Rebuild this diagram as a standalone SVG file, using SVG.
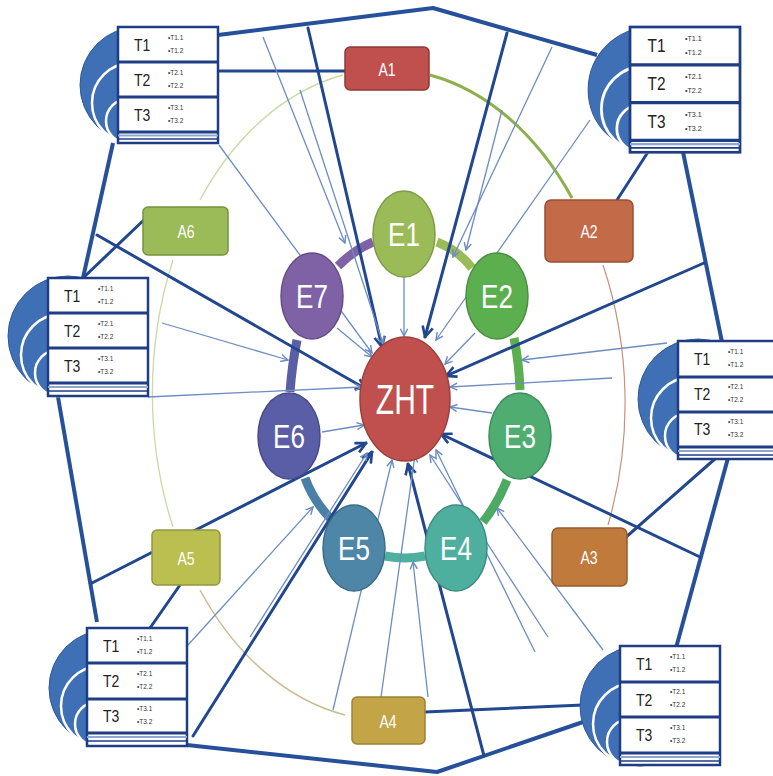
<svg xmlns="http://www.w3.org/2000/svg" width="773" height="776" viewBox="0 0 773 776">
<defs>
<style>
.disc{fill:#3F70B6;stroke:#2D5A9A;stroke-width:1}
.ring{fill:none;stroke:#fff;stroke-width:2.5}
.box{fill:#fff;stroke:#1F3D85;stroke-width:2.5}
.div{stroke:#1F3D85;stroke-width:3;fill:none}
.div2{stroke:#8FA8D2;stroke-width:2;fill:none}
.div3{stroke:#1F3D85;stroke-width:1.6;fill:none}
.tl{font-family:"Liberation Sans",Arial,sans-serif;font-size:14px;fill:#222}
.bl{font-family:"Liberation Sans",Arial,sans-serif;font-size:6.5px;fill:#333}
.el{font-family:"Liberation Sans",Arial,sans-serif;font-size:26px;fill:#fff;text-anchor:middle}
.zl{font-family:"Liberation Sans",Arial,sans-serif;font-size:30px;fill:#fff;text-anchor:middle}
.al{font-family:"Liberation Sans",Arial,sans-serif;font-size:14px;fill:#fff;text-anchor:middle}
.thick{stroke:#21478F;stroke-width:3;fill:none;stroke-linecap:round}
.poly{stroke:#26519A;stroke-width:4;fill:none;stroke-linejoin:round}
.thin{stroke:#6C8DC2;stroke-width:1.3;fill:none}
.arc{fill:none;stroke-width:9}
</style>
<marker id="ah" viewBox="0 0 10 10" refX="9" refY="5" markerWidth="13" markerHeight="13" markerUnits="userSpaceOnUse" orient="auto"><path d="M1,1 L9,5 L1,9" fill="none" stroke="#21478F" stroke-width="2"/></marker>
<marker id="at" viewBox="0 0 10 10" refX="9" refY="5" markerWidth="9" markerHeight="9" markerUnits="userSpaceOnUse" orient="auto"><path d="M1,1 L9,5 L1,9" fill="none" stroke="#6C8DC2" stroke-width="1.6"/></marker>
</defs>
<rect width="773" height="776" fill="#fff"/>

<g id="outer-ellipse">
<path d="M430,75 A235,326 0 0 1 572,198" fill="none" stroke="#8DB04D" stroke-width="3"/>
<path d="M603,265 A235,326 0 0 1 608,525" fill="none" stroke="#C8917A" stroke-width="1.2"/>
<path d="M345,715 A235,326 0 0 1 200,590" fill="none" stroke="#C9BC8F" stroke-width="1.5"/>
<path d="M173,527 A235,326 0 0 1 173,260" fill="none" stroke="#C9DAA2" stroke-width="1.3"/>
<path d="M200,200 A235,326 0 0 1 343,75" fill="none" stroke="#C9DAA2" stroke-width="1.3"/>
</g>

<g id="ring-arcs">
<path class="arc" d="M437,242 Q458,250 472,268" stroke="#9BBB59"/>
<path class="arc" d="M338,266 Q354,250 373,242" stroke="#7F62A6"/>
<path class="arc" d="M514,338 Q519,362 520,390" stroke="#5CAF4E"/>
<path class="arc" d="M507,480 Q498,503 483,522" stroke="#4CAA62"/>
<path class="arc" d="M385,556 Q405,560 425,556" stroke="#4FAF9F"/>
<path class="arc" d="M305,478 Q313,500 330,518" stroke="#4A80A5"/>
<path class="arc" d="M297,340 Q292,365 290,392" stroke="#5A5EA6"/>
</g>

<g id="connectors">
<path class="poly" d="M218,35 L433,8 L597,55"/>
<path class="poly" d="M683,152 L722,342"/>
<path class="poly" d="M728,458 L676,648"/>
<path class="poly" d="M583,722 L437,772 L187,745"/>
<path class="poly" d="M58,397 L97,622"/>
<path class="poly" d="M113,143 L83,278"/>
<path class="thick" d="M218,71 L345,71"/>
<path class="thick" d="M648,152 L617,200"/>
<path class="thick" d="M716,458 L625,538"/>
<path class="thick" d="M150,628 L180,585"/>
<path class="thick" d="M83,278 L147,217"/>
<path class="thick" d="M425,712 L583,705"/>
<path class="thick" d="M308,28 L382,347" marker-end="url(#ah)"/>
<path class="thick" d="M507,33 L425,337" marker-end="url(#ah)"/>
<path class="thick" d="M704,263 L446,376" marker-end="url(#ah)"/>
<path class="thick" d="M700,557 L441,434" marker-end="url(#ah)"/>
<path class="thick" d="M484,756 L408,464" marker-end="url(#ah)"/>
<path class="thick" d="M193,736 L372,452" marker-end="url(#ah)"/>
<path class="thick" d="M92,583 L366,443" marker-end="url(#ah)"/>
<path class="thick" d="M97,235 L366,389" marker-end="url(#ah)"/>
<path class="thin" d="M263,37 L345,243" marker-end="url(#at)"/>
<path class="thin" d="M300,90 L383,344" marker-end="url(#at)"/>
<path class="thin" d="M219,145 L372,353" marker-end="url(#at)"/>
<path class="thin" d="M404,277 L404,336" marker-end="url(#at)"/>
<path class="thin" d="M337,328 L372,357" marker-end="url(#at)"/>
<path class="thin" d="M552,47 L453,257" marker-end="url(#at)"/>
<path class="thin" d="M502,110 L466,250" marker-end="url(#at)"/>
<path class="thin" d="M590,120 L436,340" marker-end="url(#at)"/>
<path class="thin" d="M475,333 L445,364" marker-end="url(#at)"/>
<path class="thin" d="M667,343 L522,360" marker-end="url(#at)"/>
<path class="thin" d="M612,378 L450,387" marker-end="url(#at)"/>
<path class="thin" d="M492,413 L450,407" marker-end="url(#at)"/>
<path class="thin" d="M162,323 L288,360" marker-end="url(#at)"/>
<path class="thin" d="M148,397 L362,387" marker-end="url(#at)"/>
<path class="thin" d="M322,432 L364,425" marker-end="url(#at)"/>
<path class="thin" d="M188,645 L313,507" marker-end="url(#at)"/>
<path class="thin" d="M250,637 L367,453" marker-end="url(#at)"/>
<path class="thin" d="M333,710 L392,460" marker-end="url(#at)"/>
<path class="thin" d="M381,697 L415,455" marker-end="url(#at)"/>
<path class="thin" d="M428,697 L413,562" marker-end="url(#at)"/>
<path class="thin" d="M535,652 L436,450" marker-end="url(#at)"/>
<path class="thin" d="M603,650 L497,508" marker-end="url(#at)"/>
<path class="thin" d="M548,637 L430,455" marker-end="url(#at)"/>
</g>

<g id="E1"><ellipse cx="404" cy="234" rx="31" ry="43" fill="#9BBB59" stroke="#7E9C44" stroke-width="1.5"/><text class="el" transform="translate(404,245.5) scale(1,1.25)">E1</text></g>
<g id="E2"><ellipse cx="497" cy="296" rx="31" ry="43" fill="#5CAF4E" stroke="#4A8F3E" stroke-width="1.5"/><text class="el" transform="translate(497,307.5) scale(1,1.25)">E2</text></g>
<g id="E3"><ellipse cx="520" cy="436" rx="31" ry="43" fill="#4FAD72" stroke="#3E8C5A" stroke-width="1.5"/><text class="el" transform="translate(520,447.5) scale(1,1.25)">E3</text></g>
<g id="E4"><ellipse cx="456" cy="548" rx="31" ry="43" fill="#4FAF9F" stroke="#3D8C7F" stroke-width="1.5"/><text class="el" transform="translate(456,559.5) scale(1,1.25)">E4</text></g>
<g id="E5"><ellipse cx="354" cy="548" rx="31" ry="43" fill="#4E86A7" stroke="#3D6B86" stroke-width="1.5"/><text class="el" transform="translate(354,559.5) scale(1,1.25)">E5</text></g>
<g id="E6"><ellipse cx="289" cy="436" rx="31" ry="43" fill="#5A5EA6" stroke="#474A86" stroke-width="1.5"/><text class="el" transform="translate(289,447.5) scale(1,1.25)">E6</text></g>
<g id="E7"><ellipse cx="312" cy="296" rx="31" ry="43" fill="#7F62A6" stroke="#654D86" stroke-width="1.5"/><text class="el" transform="translate(312,307.5) scale(1,1.25)">E7</text></g>
<g id="ZHT"><ellipse cx="405" cy="399" rx="45" ry="62" fill="#C0504D" stroke="#9C3F3C" stroke-width="1.5"/><text class="zl" transform="translate(405,414) scale(1,1.4)">ZHT</text></g>

<g id="A1"><rect x="345" y="47" width="84" height="43" rx="5" fill="#C0504D" stroke="#8C3836" stroke-width="1.5"/><text class="al" transform="translate(387,75.5) scale(1,1.35)">A1</text></g>
<g id="A2"><rect x="545" y="200" width="88" height="62" rx="6" fill="#C36A48" stroke="#9A4F33" stroke-width="1.5"/><text class="al" transform="translate(589,238) scale(1,1.35)">A2</text></g>
<g id="A3"><rect x="552" y="528" width="75" height="58" rx="6" fill="#C07A3C" stroke="#955C2B" stroke-width="1.5"/><text class="al" transform="translate(589,564) scale(1,1.35)">A3</text></g>
<g id="A4"><rect x="352" y="697" width="73" height="47" rx="5" fill="#C3A548" stroke="#9A8235" stroke-width="1.5"/><text class="al" transform="translate(388,727.5) scale(1,1.35)">A4</text></g>
<g id="A5"><rect x="152" y="530" width="68" height="55" rx="5" fill="#BBBF50" stroke="#939640" stroke-width="1.5"/><text class="al" transform="translate(186,564.5) scale(1,1.35)">A5</text></g>
<g id="A6"><rect x="143" y="207" width="85" height="48" rx="5" fill="#9BBB59" stroke="#76923C" stroke-width="1.5"/><text class="al" transform="translate(186,237.5) scale(1,1.35)">A6</text></g>

<g id="S1" transform="translate(118,27)">
<circle class="disc" cx="20" cy="58" r="58"/><circle class="ring" cx="14" cy="76" r="40"/><circle class="ring" cx="10" cy="94" r="22"/>
<rect class="box" x="0" y="0" width="100" height="116"/>
<path class="div" d="M0,35H100M0,70H100M0,105H100"/><path class="div2" d="M0,108.5H100"/><path class="div3" d="M0,112H100"/>
<text class="tl" transform="translate(16,23.5) scale(1,1.2)">T1</text><text class="bl" x="50" y="13">•T1.1</text><text class="bl" x="50" y="26">•T1.2</text>
<text class="tl" transform="translate(16,58.5) scale(1,1.2)">T2</text><text class="bl" x="50" y="48">•T2.1</text><text class="bl" x="50" y="61">•T2.2</text>
<text class="tl" transform="translate(16,93.5) scale(1,1.2)">T3</text><text class="bl" x="50" y="83">•T3.1</text><text class="bl" x="50" y="96">•T3.2</text>
</g>
<g id="S2" transform="translate(630,27) scale(1.1,1.08)">
<circle class="disc" cx="20" cy="58" r="58"/><circle class="ring" cx="14" cy="76" r="40"/><circle class="ring" cx="10" cy="94" r="22"/>
<rect class="box" x="0" y="0" width="100" height="116"/>
<path class="div" d="M0,35H100M0,70H100M0,105H100"/><path class="div2" d="M0,108.5H100"/><path class="div3" d="M0,112H100"/>
<text class="tl" transform="translate(16,23.5) scale(1,1.2)">T1</text><text class="bl" x="50" y="13">•T1.1</text><text class="bl" x="50" y="26">•T1.2</text>
<text class="tl" transform="translate(16,58.5) scale(1,1.2)">T2</text><text class="bl" x="50" y="48">•T2.1</text><text class="bl" x="50" y="61">•T2.2</text>
<text class="tl" transform="translate(16,93.5) scale(1,1.2)">T3</text><text class="bl" x="50" y="83">•T3.1</text><text class="bl" x="50" y="96">•T3.2</text>
</g>
<g id="S3" transform="translate(48,278)">
<circle class="disc" cx="20" cy="58" r="60"/><circle class="ring" cx="14" cy="77" r="41"/><circle class="ring" cx="10" cy="95" r="23"/>
<rect class="box" x="0" y="0" width="100" height="118"/>
<path class="div" d="M0,35H100M0,70H100M0,105H100"/><path class="div2" d="M0,109H100"/><path class="div3" d="M0,113H100"/>
<text class="tl" transform="translate(16,23.5) scale(1,1.2)">T1</text><text class="bl" x="50" y="13">•T1.1</text><text class="bl" x="50" y="26">•T1.2</text>
<text class="tl" transform="translate(16,58.5) scale(1,1.2)">T2</text><text class="bl" x="50" y="48">•T2.1</text><text class="bl" x="50" y="61">•T2.2</text>
<text class="tl" transform="translate(16,93.5) scale(1,1.2)">T3</text><text class="bl" x="50" y="83">•T3.1</text><text class="bl" x="50" y="96">•T3.2</text>
</g>
<g id="S4" transform="translate(678,341)">
<circle class="disc" cx="20" cy="58" r="60"/><circle class="ring" cx="14" cy="77" r="41"/><circle class="ring" cx="10" cy="95" r="23"/>
<rect class="box" x="0" y="0" width="100" height="118"/>
<path class="div" d="M0,36H100M0,71H100M0,106H100"/><path class="div2" d="M0,110H100"/><path class="div3" d="M0,114H100"/>
<text class="tl" transform="translate(16,24) scale(1,1.2)">T1</text><text class="bl" x="50" y="13">•T1.1</text><text class="bl" x="50" y="26">•T1.2</text>
<text class="tl" transform="translate(16,59) scale(1,1.2)">T2</text><text class="bl" x="50" y="48">•T2.1</text><text class="bl" x="50" y="61">•T2.2</text>
<text class="tl" transform="translate(16,94) scale(1,1.2)">T3</text><text class="bl" x="50" y="83">•T3.1</text><text class="bl" x="50" y="96">•T3.2</text>
</g>
<g id="S5" transform="translate(87,628)">
<circle class="disc" cx="20" cy="60" r="58"/><circle class="ring" cx="14" cy="78" r="40"/><circle class="ring" cx="10" cy="96" r="22"/>
<rect class="box" x="0" y="0" width="100" height="118"/>
<path class="div" d="M0,35H100M0,71H100M0,105H100"/><path class="div2" d="M0,109H100"/><path class="div3" d="M0,113H100"/>
<text class="tl" transform="translate(16,23.5) scale(1,1.2)">T1</text><text class="bl" x="50" y="13">•T1.1</text><text class="bl" x="50" y="26">•T1.2</text>
<text class="tl" transform="translate(16,59) scale(1,1.2)">T2</text><text class="bl" x="50" y="48">•T2.1</text><text class="bl" x="50" y="61">•T2.2</text>
<text class="tl" transform="translate(16,94) scale(1,1.2)">T3</text><text class="bl" x="50" y="83">•T3.1</text><text class="bl" x="50" y="96">•T3.2</text>
</g>
<g id="S6" transform="translate(620,646)">
<circle class="disc" cx="20" cy="60" r="60"/><circle class="ring" cx="14" cy="78" r="41"/><circle class="ring" cx="10" cy="96" r="23"/>
<rect class="box" x="0" y="0" width="100" height="119"/>
<path class="div" d="M0,36H100M0,71H100M0,107H100"/><path class="div2" d="M0,111H100"/><path class="div3" d="M0,115H100"/>
<text class="tl" transform="translate(16,24) scale(1,1.2)">T1</text><text class="bl" x="50" y="13">•T1.1</text><text class="bl" x="50" y="26">•T1.2</text>
<text class="tl" transform="translate(16,59.5) scale(1,1.2)">T2</text><text class="bl" x="50" y="48">•T2.1</text><text class="bl" x="50" y="61">•T2.2</text>
<text class="tl" transform="translate(16,95) scale(1,1.2)">T3</text><text class="bl" x="50" y="84">•T3.1</text><text class="bl" x="50" y="97">•T3.2</text>
</g>
</svg>
